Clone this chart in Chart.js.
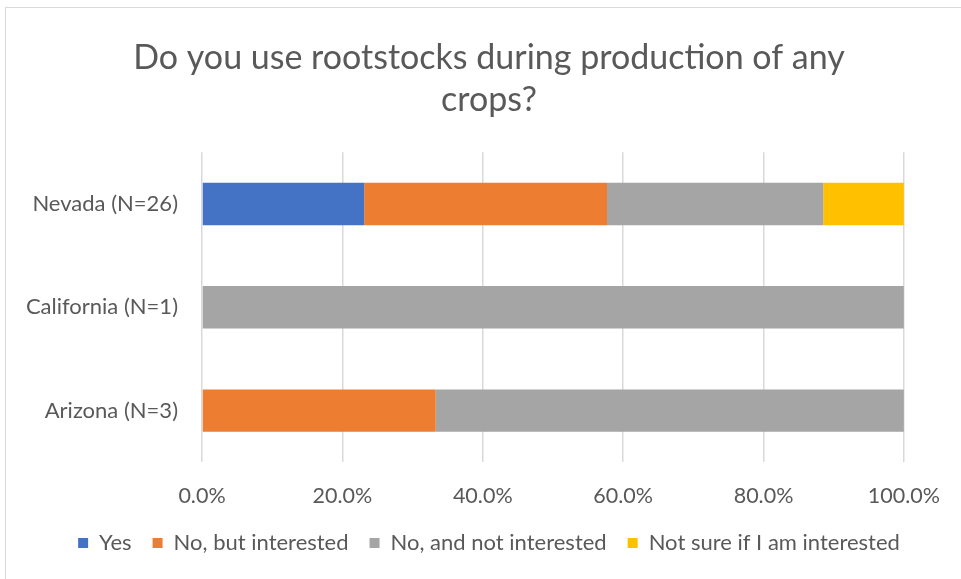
<!DOCTYPE html>
<html>
<head>
<meta charset="utf-8">
<script src="https://cdn.jsdelivr.net/npm/chart.js@4.4.1/dist/chart.umd.min.js"></script>
<style>
  html, body { margin: 0; padding: 0; background: #ffffff; overflow: hidden; }
  #wrap { position: absolute; left: 0; top: 0; width: 961px; height: 579px; }
  #frame { position: absolute; left: 5px; top: 7px; width: 1200px; height: 800px;
           border-left: 1px solid #d9d9d9; border-top: 1px solid #d9d9d9; pointer-events: none; }
</style>
</head>
<body>
<div id="wrap"><canvas id="chart" width="961" height="579"></canvas></div>
<div id="frame"></div>
<script>
// Survey responses by state, share of respondents (%)
const states = ['Nevada (N=26)', 'California (N=1)', 'Arizona (N=3)'];
const answers = ['Yes', 'No, but interested', 'No, and not interested', 'Not sure if I am interested'];
const yesShare           = [23.1, 0, 0];
const interestedShare    = [34.6, 0, 33.3];
const notInterestedShare = [30.8, 100, 66.7];
const notSureShare       = [11.5, 0, 0];
const xTicks = [0, 20, 40, 60, 80, 100];
const colors = ['#4472C4', '#ED7D31', '#A5A5A5', '#FFC000'];

const seriesValues = [yesShare, interestedShare, notInterestedShare, notSureShare];
const FONT = 'Lato, "Open Sans", sans-serif';
const TEXT = '#595959';

new Chart(document.getElementById('chart'), {
  type: 'bar',
  data: {
    labels: states,
    datasets: answers.map((name, i) => ({
      label: name,
      data: seriesValues[i],
      backgroundColor: colors[i],
      borderWidth: 0,
      barPercentage: 0.41,
      categoryPercentage: 1.0
    }))
  },
  options: {
    indexAxis: 'y',
    responsive: false,
    animation: false,
    layout: { padding: { left: 20, right: 3, top: 0, bottom: 15 } },
    scales: {
      x: {
        stacked: true,
        min: 0,
        max: 100,
        afterBuildTicks: (axis) => { axis.ticks = xTicks.map(v => ({ value: v })); },
        afterFit: (axis) => { axis.height -= 19; },
        ticks: {
          color: TEXT,
          font: { family: FONT, size: 21.5 },
          padding: 21,
          callback: (v) => Number(v).toFixed(1) + '%'
        },
        grid: { color: '#d9d9d9', lineWidth: 1.5, drawTicks: false },
        border: { display: false }
      },
      y: {
        stacked: true,
        afterFit: (axis) => { axis.width = 182; },
        ticks: { color: TEXT, font: { family: FONT, size: 22 }, padding: 24 },
        grid: { display: false, drawTicks: false },
        border: { display: false }
      },
      // empty right-hand gutter so the plot ends before the title/legend span does
      yGutter: {
        axis: 'y',
        position: 'right',
        afterFit: (axis) => { axis.width = 54; },
        ticks: { display: false },
        grid: { display: false, drawTicks: false },
        border: { display: false }
      }
    },
    plugins: {
      title: {
        display: true,
        text: ['Do you use rootstocks during production of any', 'crops?'],
        color: TEXT,
        font: { family: FONT, size: 34, weight: 'normal', lineHeight: 1.24 },
        padding: { top: 37, bottom: 31 }
      },
      legend: {
        position: 'bottom',
        labels: {
          color: TEXT,
          font: { family: FONT, size: 22 },
          boxWidth: 10,
          boxHeight: 10,
          padding: 21
        }
      },
      tooltip: { enabled: false }
    }
  }
});
</script>
</body>
</html>
